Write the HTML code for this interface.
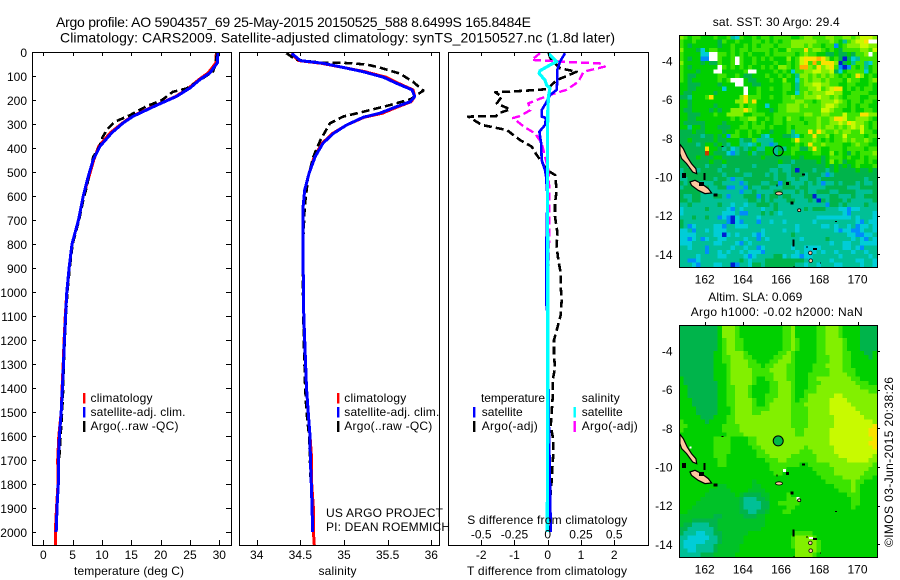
<!DOCTYPE html>
<html lang="en">
<head>
<meta charset="utf-8">
<title>Argo profile 5904357_69</title>
<style>
html,body{margin:0;padding:0;background:#fff;}
body{width:900px;height:580px;overflow:hidden;}
svg{display:block;}
text{font-family:"Liberation Sans",sans-serif;font-size:12px;fill:#000;}
.title{font-size:14px;}
</style>
</head>
<body>
<svg id="chart" xmlns="http://www.w3.org/2000/svg" width="900" height="580" viewBox="0 0 900 580">
  <rect x="0" y="0" width="900" height="580" fill="#fff"/>
  <defs>
    <clipPath id="clip-t"><rect x="32" y="52" width="199" height="493"/></clipPath>
    <clipPath id="clip-s"><rect x="239" y="52" width="200" height="493"/></clipPath>
    <clipPath id="clip-d"><rect x="448" y="52" width="200" height="493"/></clipPath>
    <clipPath id="clip-m1"><rect x="679" y="35" width="198" height="232"/></clipPath>
    <clipPath id="clip-m2"><rect x="679" y="325" width="198" height="232"/></clipPath>
  </defs>

  <text class="title" x="56" y="27" textLength="475" lengthAdjust="spacing">Argo profile: AO 5904357_69 25-May-2015 20150525_588 8.6499S 165.8484E</text>
  <text class="title" x="60" y="42.5" textLength="555" lengthAdjust="spacing">Climatology: CARS2009. Satellite-adjusted climatology: synTS_20150527.nc (1.8d later)</text>

  <g id="panel-t"></g>
  <g id="panel-s"></g>
  <g id="panel-d"></g>
  <g id="map-1"></g>
  <g id="map-2"></g>

  <text x="74" y="575" textLength="110" lengthAdjust="spacing">temperature (deg C)</text>
  <text x="318.5" y="575" textLength="38" lengthAdjust="spacing">salinity</text>
  <text x="467" y="575" textLength="160" lengthAdjust="spacing">T difference from climatology</text>
  <text x="467.3" y="524" textLength="160" lengthAdjust="spacing">S difference from climatology</text>

  <g>
    <rect x="83" y="393" width="2.4" height="10.5" fill="#f00"/>
    <rect x="83" y="407" width="2.4" height="10.5" fill="#00f"/>
    <rect x="83" y="421" width="2.4" height="11" fill="#000"/>
    <text x="90.5" y="402" textLength="62" lengthAdjust="spacing">climatology</text>
    <text x="90.5" y="416" textLength="95" lengthAdjust="spacing">satellite-adj. clim.</text>
    <text x="90.5" y="430" textLength="88" lengthAdjust="spacing">Argo(..raw -QC)</text>
  </g>
  <g>
    <rect x="337" y="393" width="2.4" height="10.5" fill="#f00"/>
    <rect x="337" y="407" width="2.4" height="10.5" fill="#00f"/>
    <rect x="337" y="421" width="2.4" height="11" fill="#000"/>
    <text x="344.3" y="402" textLength="62" lengthAdjust="spacing">climatology</text>
    <text x="344.3" y="416" textLength="95" lengthAdjust="spacing">satellite-adj. clim.</text>
    <text x="344.3" y="430" textLength="88" lengthAdjust="spacing">Argo(..raw -QC)</text>
  </g>
  <text x="326" y="517" textLength="117" lengthAdjust="spacing">US ARGO PROJECT</text>
  <text x="326" y="531" textLength="124" lengthAdjust="spacing">PI: DEAN ROEMMICH</text>

  <g>
    <text x="481" y="402" textLength="64" lengthAdjust="spacing">temperature</text>
    <text x="581.7" y="402" textLength="38" lengthAdjust="spacing">salinity</text>
    <rect x="473" y="407" width="2.4" height="10.5" fill="#00f"/>
    <rect x="473" y="421" width="2.4" height="11" fill="#000"/>
    <rect x="573.5" y="407" width="2.4" height="10.5" fill="#0ff"/>
    <rect x="573.5" y="421" width="2.4" height="11" fill="#f0f"/>
    <text x="481.7" y="416" textLength="41" lengthAdjust="spacing">satellite</text>
    <text x="481.7" y="430" textLength="56" lengthAdjust="spacing">Argo(-adj)</text>
    <text x="581.7" y="416" textLength="41" lengthAdjust="spacing">satellite</text>
    <text x="581.7" y="430" textLength="56" lengthAdjust="spacing">Argo(-adj)</text>
  </g>

  <text x="712.7" y="26" textLength="127" lengthAdjust="spacing">sat. SST: 30  Argo: 29.4</text>
  <text x="708.3" y="301" textLength="94" lengthAdjust="spacing">Altim. SLA: 0.069</text>
  <text x="690.7" y="316" textLength="172" lengthAdjust="spacing">Argo h1000: -0.02  h2000: NaN</text>
  <text transform="translate(893 547) rotate(-90)" x="0" y="0" textLength="170" lengthAdjust="spacing">©IMOS 03-Jun-2015 20:38:26</text>
</svg>

<script>
/* ---------- chart values ---------- */
const depthTicks = [0,100,200,300,400,500,600,700,800,900,1000,1100,1200,1300,1400,1500,1600,1700,1800,1900,2000];
const tempTicks = [0,5,10,15,20,25,30];
const salTicks = [34,34.5,35,35.5,36];
const salTickLabels = ['34','34.5','35','35.5','36'];
const diffTTicks = [-2,-1,0,1,2];
const diffTTickLabels = ['-2','-1','0','1','2'];
const diffSTicks = [-0.5,-0.25,0,0.25,0.5];
const diffSTickLabels = ['-0.5','-0.25','0','0.25','0.5'];
const lonTicks = [162,164,166,168,170];
const latTicks = [-4,-6,-8,-10,-12,-14];

const tempClimDepth = [0,46,87,115,150,185,222,268,296,337,393,449,518,601,700,800,900,1000,1100,1200,1300,1400,1500,1600,1700,1800,1900,2000,2054];
const tempClim = [29.5,29.4,28.1,26.5,24.8,22.6,19.2,15.1,13.5,11.4,9.45,8.6,7.8,6.8,6.0,4.9,4.4,4.0,3.75,3.55,3.4,3.2,3.05,2.65,2.45,2.5,2.25,2.05,2.1];
const tempSatDepth = [0,46,87,115,150,185,222,268,296,337,393,449,518,601,700,800,900,1000,1100,1200,1300,1400,1500,1600,1700,1800,1900,2000];
const tempSat = [29.8,29.66,28.4,26.7,25,22.7,19.3,15.3,13.6,11.65,9.66,8.5,7.67,6.8,6.0,4.9,4.4,4.0,3.8,3.6,3.45,3.25,3.05,2.75,2.55,2.55,2.33,2.2];
const tempArgoDepth = [4,57,82,117,152,166,201,226,263,291,319,354,395,437,493,562,618,700,800,900,1000,1100,1200,1300,1400,1500,1600,1700];
const tempArgo = [29.6,29.3,28.9,26.7,24.4,22.1,20.2,17.6,14.8,12.2,11,10.1,9.55,8.5,8,7.4,6.8,6.1,5.0,4.5,4.1,3.85,3.65,3.5,3.4,3.2,2.95,2.7];

const salClimDepth = [6,36,47,65,82,105,130,158,186,207,228,255,272,304,339,380,436,505,575,650,800,1000,1100,1200,1400,1500,1600,1700,1800,1900,2000,2054];
const salClim = [34.4,34.48,34.74,35.0,35.24,35.48,35.62,35.79,35.81,35.77,35.62,35.44,35.23,35.03,34.87,34.75,34.66,34.6,34.55,34.53,34.53,34.535,34.54,34.55,34.57,34.59,34.61,34.63,34.63,34.65,34.65,34.66];
const salSatDepth = [6,36,47,65,82,105,130,158,186,207,228,255,272,304,339,380,436,505,575,650,800,1000,1100,1200,1400,1500,1600,1700,1800,1900,2000];
const salSat = [34.4,34.5,34.76,35.0,35.22,35.45,35.6,35.78,35.81,35.76,35.6,35.41,35.22,35.03,34.88,34.76,34.67,34.6,34.55,34.53,34.53,34.535,34.54,34.55,34.57,34.59,34.61,34.615,34.625,34.635,34.64];
const salArgoDepth = [5,30,36,45,45,52,65,90,124,161,197,221,249,269,297,367,436,519,644,800,1000,1200,1400,1500,1600,1800];
const salArgo = [34.34,34.44,34.52,34.76,34.99,35.26,35.41,35.64,35.79,35.91,35.76,35.53,35.22,34.99,34.84,34.73,34.65,34.59,34.55,34.53,34.53,34.54,34.555,34.57,34.6,34.62];

const diffTSatDepth = [5,40,75,117,158,179,207,242,269,275,304,332,380,450,492,515,600,780,1055,1100,1500,1900,2000];
const diffTSat = [0.52,0.37,0.29,0.29,0.27,0.07,-0.03,-0.18,-0.18,-0.05,-0.08,-0.25,-0.2,-0.18,-0.08,-0.05,-0.01,-0.035,-0.035,0,0.03,0.08,0.09];
const diffTArgoDepth = [5,30,68,82,103,117,137,155,161,165,168,186,214,239,255,267,269,304,325,367,394,429,457,492,512,575,630,686,749,811,867,921,978,1033,1096,1150,1200,1263,1317,1367,1437,1500,1558,1617,1667,1729,1783,1900,2000];
const diffTArgo = [0.02,0.1,0.37,0.87,0.52,0.27,0.12,-0.03,-0.63,-1.13,-1.58,-1.38,-1.53,-1.13,-1.48,-1.55,-2.39,-1.98,-1.23,-0.83,-0.48,-0.33,-0.18,-0.03,0.22,0.27,0.22,0.22,0.29,0.27,0.32,0.39,0.39,0.42,0.39,0.29,0.19,0.19,0.22,0.15,0.15,0.12,0.09,0.17,0.17,0.14,0.12,0.05,0.03];
const diffSSatDepth = [5,40,54,78,89,117,137,151,186,260,500,800,1200,1600,2000];
const diffSSat = [0.005,0.068,0.017,-0.058,-0.065,-0.02,-0.008,0.017,0.005,0,-0.002,0,0,0,-0.004];
const diffSArgoDepth = [5,33,43,47,61,82,124,158,172,197,214,242,267,275,311,339,380,436,492,575,650,833,1000,1500,2000];
const diffSArgo = [-0.058,-0.12,0.19,0.39,0.43,0.27,0.23,0.14,0.055,-0.07,-0.146,-0.13,-0.21,-0.26,-0.18,-0.095,-0.045,-0.02,0.005,0.012,0.012,0.01,0,0,0];

/* SST map: one letter per grid cell, top row first (see cellColours) */
const sstRows = [
"hgfggfffgf fgdcgffgfg gfggggffgh hggghhgghh ghiiih",
"gffgfffffe gffgfffggf gfgfgghhhh hhggghgfdg hiijww",
"gfeffffffe ffgffgfgfg ggfggghhhg hggfggbfgh hhiihh",
"hfffecfggf ffgfggfggg gfgffhgggj ghhgfgfegg gghhgi",
"gffffccwwg gfgfgfgfff gfgggggfgh ggffeefeef egghwg",
"gfeffbbwwg ffgwgffgfg fgfffhfgij jjkjhfgeae cdgggg",
"hffffefeeg ffgwgffgff ffgffgfgij gkgjjjhaef dggdcg",
"gfeffffffw gfgfgfgffg fgfhhgfgkk hgjhijgbab gfgdfg",
"gfffefffww fffffgwwff ffgfgfcggh hiihhiecfg gggcfg",
"gfeefffffg gffgfeefff gffgfgfdhh ghghghgfgf gjhfgf",
"gfeffffffg fgwwwfeeff fgffhffcgh ghhghgggfh ggffgh",
"ffeeeffffe fffwwffeef ffffggfdgh hiihhggffg gfffgf",
"ffeeffffff cffffwffgf fgffggfdgg hhighijjfg fgfggf",
"feefffffef fffffwffgf ffffgffcgh ghhhiihhff ggggff",
"eedfffgjff ffffhjgggf fgffgghggh hhihhghgfg ggffgg",
"ffefffffff fffhhjgjff ffffggghhg gfghhhihgf ggfggf",
"ffefffffef ffffhfggff cffgghhhgh ggghiihggf gfggff",
"feeffffefe ffhhhjhgff fefgghhhgg gggiihggff gffggf",
"ffeeefffgf fhhhhffggg ffgggggggh hgghhgggig ggjjhh",
"ffeeffffff ffgfgghhff gfggfhggfg gghgghjjig ghhhgf",
"feeeeeffff effffgfgfg ffggfggggf gghgghhihj ihhgfg",
"ffdffefffe eeffggfggg fgfffgfggg gghghhghgh ihigfg",
"eeefeeffff effgffgfgf fefffgdggg jgjhgghghh ggiggf",
"eeeeedeefe fbggffgffd cfffeedcfg gjgghfggig gggfgg",
"eefeeeeefe efffdeegdd ddffffgjgg ghgfgfgghg hgghgf",
"eeeedeffef edffddcdfd dbdffffgfg jgghggggff ghggff",
"eeeeeejffe decdedefdd ffdedfggee gjgffgggfg gggfgg",
"eeeeeelfee ecbdeefdee ffdfffgfff fggffhfgfe gfgggh",
"eeeefeeeff eeeeeeeeef eeeeeeffef fffefgggfg ffgfgg",
"eeeeeeefee feeeeeeeee eeefeedeee eefefhfgef fggfgf",
"eedeeedeee deeeeeedee eeedddeeee eeeefefefe fgfffg",
"deeedeeeed eeedeeeeee eddeddeaee edeedefeee efeefe",
"deeeeeeeee deeeeddeee dedeedeeed eeedbdeeee eeeeee",
"ddeeeeeede edbddeeeee eedeeddedd eedeeeeeee eeedee",
"edeeddddee ddddbdeeed deebeeddde dedbddedee ededde",
"deeefeedde ebbddbedde edddeeedee ddddeeeeed ddeeee",
"eeeeeddddd ddddbddedd ddeedddede ddeeeddeee edddde",
"eddeedddee dbdddeeebe deedeeddde eadddeeddd eddeee",
"eedeeddddd ddddddeede dedddeeddd edaedeeede ddddde",
"ddedddddde ddcddcddee ededdddddd ddddbeeded dddedd",
"cdddddeddd dcbdcddddc ddedddddde deeedddccb ccdddd",
"cddddddddd cccdbbddde dedcdddddd ddddddddcb dddddc",
"dddeddeddb cbacddddcd dddddddddd ddcccccccc dcdddc",
"eddddddddd dbacbdddbd dcddcddddd dcdddddddd dcbdcc",
"edbcddddcc bddcccdddd dddddddcdd dddccdcddc dbccdc",
"ccdbddcdcc cddddddddc ddddcddcdd ddddddcbcc bbcddc",
"ccccddddcc acdcdddcbc ddddddeddd dddddddddc cbbccd",
"ccbcdbcddc cddddcddbd cdddddddcd ddddeddddd cdcbdc",
"cccdddddcc dddcbdcddd dddddddddd dddddcddcc ddcccc",
"ddcdddbddd ddcddcddbc ddddddcddc cccdddddcc dcbddd",
"ddddddbddc dcddcdcccb dddddddcdc ccdcddcddd cddcdd",
"ddddcddddc cddddcbcdd ddeecdccbc cddddddcdd ddddcd",
"ddbbcddddd ddddedcddd eeeeeeeeed cddddcdddd dccddc",
"dddcbdddcc ddabddceed eeeeeeeddc ddcdddccdd ddcddc"
];

/* altimeter SLA map: same coding */
const slaRows = [
"eeeeeeeeef hhhgffffff ffffgghfff ffgghhhgff ffeeee",
"eeeeeeeeef hhhgffffff ffffgghfff ffgghhhgff ffeeee",
"eeeeeeeeef hhhgffffff ffffgghfff ffgghhhgff ffeeee",
"eeeeeeeeef ghhggfffff ffffgghgff ffgghhhhgf ffeeee",
"eeeeeeeeef ghhggfffff ffffgghgff ffgghhhhgf ffeeee",
"eeeeeeeeef ghhggfffff ffffgghgff ffgghhhhgf ffeeee",
"eeeeeeeeff ghhhhgffff fffgghgfff ffgghhhhgg fffeef",
"eeeeeeeeff gghhhggfff ffgghhgfff ffggghhhgg ffffef",
"eeeeeeeeff gghhhhggff fgghhhgfff ffggghhhgg ffffff",
"eeeeeeeeff fghhhhgggf gghhhggfff fggghhhhgg ffffff",
"eeeeeeeeff fghhhhhggg ghhhhggfff fgggghhhgg gfffff",
"eeeeeeeeff fghhhhhggg gghhhggfff ggggghhhhg gfffff",
"feeeeeeeff fghhhhhgff gghhhggfff gghhhhhhhh ggffff",
"feeeeeeeef fghhhhhgff fgghhhgfff ggghhhhhhh hgggff",
"ffeeeeeeef fgghhhgfff fgghhhgfff gghhhhhhhh hhgggg",
"ffeeeeeeef fgghhhgfff fgghhhgffg gghhhhhhhh hhhhgg",
"ffeeeeeeef fgghhhgfff ggghhhgffg hhhhhhiihh hhhhhh",
"fffeeeeeef fgghhhhgff gghhhhgfgg hhhhhiiiih hhhhhh",
"fffeeeeeef fgghhhhgff ghhhhhgggh hhhhhiiiii hhhhhh",
"ffffeeeeef ffghhhhggg ghhhhhgggg hhhhhiiiii ihhhhh",
"ffffeeeeef ffghhhhggh hhhhhhgggg hhhhhiiiii iihhhh",
"fffffeeeff fgghhhhhhh hhhhhhgggg hhhhhhiiii iiihhh",
"gfffffefff fgghhhhhhh hhhhhhgggg hhhhhhiiii iiiiih",
"ggffffffff gggghhhhhh hhhhhhgggg hhhhhhiiii iiiiij",
"gfffffffff gggghhhhhh hhhhhhhggh hhhhhiiiii iiiijj",
"ffffffffff fgggghhhhh hhhhhhhggh hhhhhiiiii iiiijj",
"ffffffffgg ggffffgghh hhhhhhhhhh hhhhhiiiii iiiiij",
"ffffffffgg ggffffgghh hhhhhhhhhh hhhhhiiiii iiiijj",
"ffffffffgg ggfffffggh hhhhhhhhhg hhhhhhiiii iiiiij",
"ffffffffgg ggffffffgg hhhhhhhhgg ghhhhhiiii iiiiii",
"ffffffffgg gfffffffgg ghhhhhgggg gghhhhhiii iiiiih",
"fffffffffg gfffffffff ggghhggggg gghhhhhhhi iiiihh",
"fffffffffg gfffffffff fgggggggff ggggghhhhh hhhhhg",
"ffffffffff ffffffffff fggggfffff fggggghhhh hhhhgg",
"ffffffffff ffffffffff ffggffffff ffgggghhhh hhhggg",
"ffffffffff ffffffffff ffffffffff fffggggghh hhgggf",
"ffffffffff fffffffnff ffffffffff ffffgggggg hggfff",
"fffffffffn nffffffnnf ffffffffff ffffffgggg hgffff",
"fffffffnnn nnffffnnnn ffffffffff fffffffggg hgffff",
"ffffffnnnn nnnfneeeen nffffgffff fffffffffg ggffff",
"fffffnnnnn nnnnedddee nffffgggff ffffffffff ggffff",
"ffffnnnnnn nnnnedddde effgggggff ffffffffff ggffff",
"fffnnnnnnn nnnnedddde effffggfff ffffffffff gfffff",
"ffnnnnnnnn nnnneeddee nfffggffff ffffffffff ffffff",
"nnnnnnnnee nnnnneeenn ffffffffff ffffffffff ffffff",
"nnneeeeeen nnnnnnnnnn ffffffffff ffffffffff ffffff",
"needdddeen nnnnnnnnnn ffffffffff ffffffffff ffffff",
"eedddddden nnnnnnnnnf ffffffffff ffffffffff ffffff",
"edddccddee nnnnnnffff fffffffggg gfffffffff ffffff",
"ddcccccdde nnnnnfffff ffffffghhh hgffffffff ffffff",
"dcccccddde nnnnnfffff ffffffghhh hhgfffffff ffffff",
"dcccdddden nnnnffffff ffffffghhh hhgfffffff ffffff",
"ddccdddden nnnnffffff fffffffhhh hhgfffffff ffffff",
"dddddeeenn nnnfffffff fffffffhhh hgffffffff ffffff"
];

/* Islands as lon/lat outlines and small specks (lon, lat) */
const islandOne = [[160.70,-8.31],[160.88,-8.53],[161.09,-8.97],[161.31,-9.31],[161.54,-9.57],[161.58,-9.83],[161.37,-9.74],[161.05,-9.31],[160.79,-9.05],[160.70,-8.79]];
const islandTwo = [[161.23,-10.26],[161.49,-10.17],[161.84,-10.34],[162.19,-10.60],[162.36,-10.83],[162.01,-10.86],[161.66,-10.69],[161.31,-10.43]];
const blackSpecks = [[160.8,-9.8,4,5],[161.93,-9.8,2,7],[161.7,-10.25,5,4],[162.45,-10.86,4,3],[162.89,-8.4,2,1],[165.76,-10.4,1,2],[166.25,-10.26,3,3],[166.5,-11.28,3,3],[166.6,-13.24,2,7],[167.68,-13.67,4,2],[167.34,-13.57,1,2],[168.03,-14.43,1,1],[168.82,-12.29,2,1],[167.1,-9.83,3,2],[166.64,-14.6,1,1]];
const peachSpecks = [[165.89,-10.85,3.5,1.6],[166.95,-11.72,1.6,1.4],[167.53,-13.93,1.8,1.8],[167.55,-14.33,1.8,1.8]];
const whiteSpecks = [[166.1,-10.1,3,3],[166.8,-11.55,3,3],[167.45,-13.62,4,2],[161.2,-8.95,2,2]];
const argoFloatLon = 165.8484;
const argoFloatLat = -8.6499;

/* ---------- axes ---------- */
const cellColours = {a:'rgb(0,30,210)',b:'rgb(0,140,250)',c:'rgb(0,205,215)',d:'rgb(0,192,150)',e:'rgb(0,180,75)',n:'rgb(0,194,40)',f:'rgb(0,208,0)',g:'rgb(60,228,0)',h:'rgb(130,240,0)',i:'rgb(200,250,0)',j:'rgb(250,225,0)',k:'rgb(255,175,0)',l:'rgb(200,60,0)',w:'#ffffff'};
const depthY = d => 52 + 0.24 * d;
const tempX = t => 43.3 + 5.867 * t;
const salX = s => 256.7 + 87.3 * (s - 34);
const diffTX = t => 547.7 + 33.25 * t;
const diffSX = s => 547.7 + 133 * s;
const lonX = lon => 704.7 + 19.1 * (lon - 162);
const latY = (lat, base) => base + 19.33 * (-4 - lat);

const NS = 'http://www.w3.org/2000/svg';
function el(tag, attrs, parent) {
  const node = document.createElementNS(NS, tag);
  for (const k in attrs) node.setAttribute(k, attrs[k]);
  parent.appendChild(node);
  return node;
}
function curve(parent, depths, values, xFn, stroke, width, dash, clip, name) {
  const pts = values.map((v, i) => xFn(v).toFixed(1) + ',' + depthY(depths[i]).toFixed(1)).join(' ');
  const attrs = {points: pts, fill: 'none', stroke: stroke, 'stroke-width': width, 'clip-path': 'url(#' + clip + ')', 'shape-rendering': 'crispEdges', 'stroke-linejoin': 'round'};
  if (dash) attrs['stroke-dasharray'] = dash;
  const line = el('polyline', attrs, parent);
  
  
}
function frame(parent, x, y, w, h) {
  const box = el('rect', {x: x + 0.5, y: y + 0.5, width: w, height: h, fill: 'none', stroke: '#000', 'stroke-width': 1, 'shape-rendering': 'crispEdges'}, parent);
  
  
}
function tickLine(parent, x1, y1, x2, y2) {
  const t = el('line', {x1: x1, y1: y1, x2: x2, y2: y2, stroke: '#000', 'stroke-width': 1, 'shape-rendering': 'crispEdges'}, parent);
  
  
}
function label(parent, x, y, anchor, str) {
  const t = el('text', {x: x, y: y, 'text-anchor': anchor}, parent);
  t.textContent = str;
  
  
}
function xTicks(parent, values, xFn) {
  values.forEach(v => {
    const x = Math.round(xFn(v)) + 0.5;
    tickLine(parent, x, 52, x, 56);
    tickLine(parent, x, 540, x, 545);
  });
}

/* ---------- temperature panel ---------- */
const pT = document.getElementById('panel-t');
curve(pT, tempClimDepth, tempClim, tempX, '#f00', 3, null, 'clip-t', 'temperature-climatology-line');
curve(pT, tempArgoDepth, tempArgo, tempX, '#000', 2.6, '8 4', 'clip-t', 'temperature-argo-line');
curve(pT, tempSatDepth, tempSat, tempX, '#00f', 3, null, 'clip-t', 'temperature-satellite-line');
frame(pT, 32, 52, 199, 493);
xTicks(pT, tempTicks, tempX);
depthTicks.forEach(d => {
  const y = Math.round(depthY(d)) + 0.5;
  tickLine(pT, 32, y, 36, y);
  tickLine(pT, 226, y, 231, y);
  label(pT, 27, y + 4.5, 'end', String(d));
});
tempTicks.forEach(t => label(pT, tempX(t), 559, 'middle', String(t)));

/* ---------- salinity panel ---------- */
const pS = document.getElementById('panel-s');
curve(pS, salClimDepth, salClim, salX, '#f00', 3, null, 'clip-s', 'salinity-climatology-line');
curve(pS, salArgoDepth, salArgo, salX, '#000', 2.6, '8 4', 'clip-s', 'salinity-argo-line');
curve(pS, salSatDepth, salSat, salX, '#00f', 3, null, 'clip-s', 'salinity-satellite-line');
frame(pS, 239, 52, 200, 493);
xTicks(pS, salTicks, salX);
salTicks.forEach((s, i) => label(pS, salX(s), 559, 'middle', salTickLabels[i]));

/* ---------- difference panel ---------- */
const pD = document.getElementById('panel-d');
curve(pD, diffTArgoDepth, diffTArgo, diffTX, '#000', 2.6, '8 4', 'clip-d', 't-difference-argo-line');
curve(pD, diffSArgoDepth, diffSArgo, diffSX, '#f0f', 2.4, '8 4', 'clip-d', 's-difference-argo-line');
curve(pD, diffTSatDepth, diffTSat, diffTX, '#00f', 2.6, null, 'clip-d', 't-difference-satellite-line');
curve(pD, diffSSatDepth, diffSSat, diffSX, '#0ff', 3.2, null, 'clip-d', 's-difference-satellite-line');
frame(pD, 448, 52, 200, 493);
xTicks(pD, diffTTicks, diffTX);
diffTTicks.forEach((t, i) => label(pD, diffTX(t), 559, 'middle', diffTTickLabels[i]));
diffSTicks.forEach((s, i) => label(pD, diffSX(s), 538.7, 'middle', diffSTickLabels[i]));

/* ---------- maps ---------- */
function drawMap(parent, rows, top, latBase, clipId, lonLabelY, cellName, circleFill, withWhite) {
  const mapW = 198, mapH = 232, left = 679;
  rows.forEach((row, r) => {
    const codes = row.replace(/ /g, '');
    const cw = mapW / 46, ch = mapH / rows.length;
    for (let c = 0; c < codes.length; c++) {
      const cell = el('rect', {x: (left + c * cw).toFixed(2), y: (top + r * ch).toFixed(2), width: cw.toFixed(2), height: ch.toFixed(2), fill: cellColours[codes[c]], 'shape-rendering': 'crispEdges', 'clip-path': 'url(#' + clipId + ')'}, parent);
      
      
    }
  });
  [islandOne, islandTwo].forEach(shape => {
    const pts = shape.map(p => lonX(p[0]).toFixed(1) + ',' + latY(p[1], latBase).toFixed(1)).join(' ');
    const land = el('polygon', {points: pts, fill: '#ffc8a0', stroke: '#000', 'stroke-width': 1.2, 'clip-path': 'url(#' + clipId + ')'}, parent);
    
    
  });
  if (withWhite) {
    whiteSpecks.forEach(s => {
      const speck = el('rect', {x: lonX(s[0]).toFixed(1), y: latY(s[1], latBase).toFixed(1), width: s[2], height: s[3], fill: '#fff', 'shape-rendering': 'crispEdges', 'clip-path': 'url(#' + clipId + ')'}, parent);
      
      
    });
  }
  peachSpecks.forEach(s => {
    const speck = el('ellipse', {cx: lonX(s[0]).toFixed(1), cy: latY(s[1], latBase).toFixed(1), rx: s[2], ry: s[3], fill: '#ffc8a0', stroke: '#000', 'stroke-width': 0.8, 'clip-path': 'url(#' + clipId + ')'}, parent);
    
    
  });
  blackSpecks.forEach(s => {
    const speck = el('rect', {x: lonX(s[0]).toFixed(1), y: latY(s[1], latBase).toFixed(1), width: s[2], height: s[3], fill: '#000', 'shape-rendering': 'crispEdges', 'clip-path': 'url(#' + clipId + ')'}, parent);
    
    
  });
  const mark = el('circle', {cx: lonX(argoFloatLon).toFixed(1), cy: latY(argoFloatLat, latBase).toFixed(1), r: 5, fill: circleFill, stroke: '#000', 'stroke-width': 1}, parent);
  
  
  frame(parent, left, top, mapW, mapH);
  lonTicks.forEach(lon => {
    const x = Math.round(lonX(lon)) + 0.5;
    tickLine(parent, x, top - 3, x, top);
    label(parent, lonX(lon), lonLabelY, 'middle', String(lon));
  });
  latTicks.forEach(lat => {
    const y = Math.round(latY(lat, latBase)) + 0.5;
    tickLine(parent, left + mapW, y, left + mapW + 3, y);
    label(parent, 672.5, latY(lat, latBase) + 4.5, 'end', String(lat));
  });
}
drawMap(document.getElementById('map-1'), sstRows, 35, 61, 'clip-m1', 283.5, 'sst-cell', 'none', false);
drawMap(document.getElementById('map-2'), slaRows, 325, 351, 'clip-m2', 573.5, 'sla-cell', 'rgb(0,185,70)', true);
</script>
</body>
</html>
